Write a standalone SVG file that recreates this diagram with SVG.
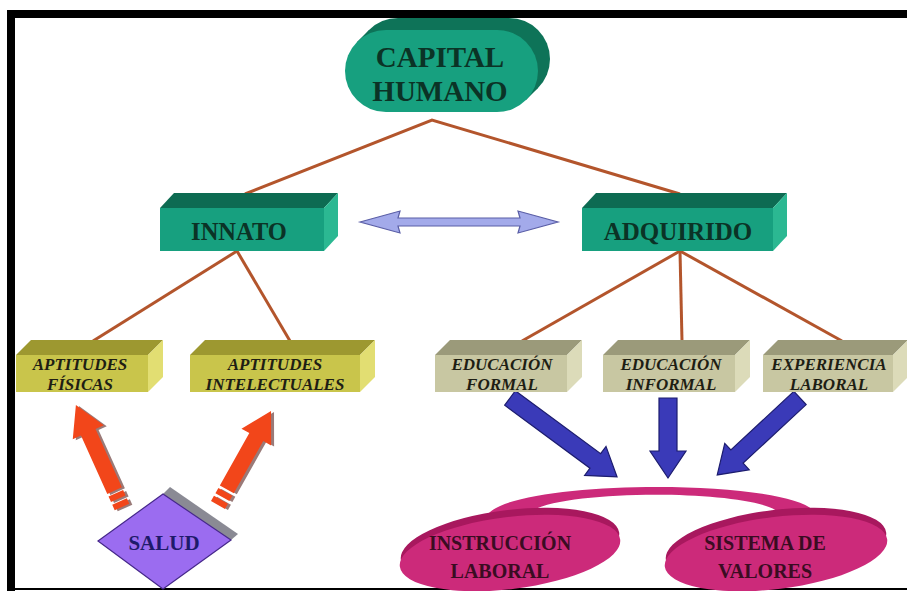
<svg xmlns="http://www.w3.org/2000/svg" width="907" height="591" viewBox="0 0 907 591">
<style>
.t{font-family:"Liberation Serif","Times New Roman",serif;font-weight:bold;text-anchor:middle}
.gt{fill:#0b3326}
.it{font-style:italic;fill:#1e1e14;font-size:17px}
.ln{stroke:#b3552c;stroke-width:3;fill:none}
.gf{fill:#17a07f}.gtop{fill:#0d6b52}.gr{fill:#2bb892}
.yf{fill:#c9c54b}.ytop{fill:#9d9830}.yr{fill:#e2de72}
.bf{fill:#c8c7a2}.btop{fill:#9b9a7a}.br{fill:#dcdbb9}
.blue{fill:#3a3ab8;stroke:#1c1c6e;stroke-width:1.2}
.red{fill:#f2461a}
.shd{fill:#9a7a78}
.pk{fill:#cc2a7a}.pkd{fill:#a8185e}
.pt{fill:#3a0c22;font-size:20px}
</style>
<rect width="907" height="591" fill="#fff"/>
<g id="frame">
<rect x="7" y="10" width="900" height="8" fill="#000"/>
<rect x="7" y="10" width="8" height="581" fill="#000"/>
<rect x="15" y="588" width="892" height="2" fill="#000"/>
</g>
<g id="connectors">
<polyline class="ln" points="245,194 432,120 680,194"/>
<line class="ln" x1="237" y1="251" x2="93" y2="341"/>
<line class="ln" x1="237" y1="251" x2="290" y2="341"/>
<line class="ln" x1="680" y1="251" x2="522" y2="341"/>
<line class="ln" x1="680" y1="251" x2="682" y2="341"/>
<line class="ln" x1="680" y1="251" x2="842" y2="341"/>
<polygon id="double-arrow" points="360,222 400,211 398,218 520,218 518,211 558,222 518,233 520,226 398,226 400,233" fill="#a3aaea" stroke="#5a5ea6" stroke-width="1.2"/>
<g id="blue-arrows">
<polygon class="blue" transform="translate(510,398) rotate(126.4)" points="-9,0 -9,-106 -18,-106 0,-133 18,-106 9,-106 9,0"/>
<polygon class="blue" transform="translate(668,398) rotate(180)" points="-9,0 -9,-53 -18,-53 0,-80 18,-53 9,-53 9,0"/>
<polygon class="blue" transform="translate(800,398) rotate(-132.9)" points="-9,0 -9,-86 -18,-86 0,-113 18,-86 9,-86 9,0"/>
</g>
<g id="red-arrows">
<g transform="translate(3,1)" class="shd">
<g transform="translate(122,507) rotate(-24.3)"><rect x="-8" y="-6" width="16" height="6"/><rect x="-8" y="-15" width="16" height="6"/><polygon points="-8,-18 -8,-82 -17,-82 0,-112 17,-82 8,-82 8,-18"/></g>
<g transform="translate(218,505) rotate(29.4)"><rect x="-8" y="-6" width="16" height="6"/><rect x="-8" y="-15" width="16" height="6"/><polygon points="-8,-18 -8,-78 -17,-78 0,-108 17,-78 8,-78 8,-18"/></g>
</g>
<g class="red">
<g transform="translate(122,507) rotate(-24.3)"><rect x="-8" y="-6" width="16" height="6"/><rect x="-8" y="-15" width="16" height="6"/><polygon points="-8,-18 -8,-82 -17,-82 0,-112 17,-82 8,-82 8,-18"/></g>
<g transform="translate(218,505) rotate(29.4)"><rect x="-8" y="-6" width="16" height="6"/><rect x="-8" y="-15" width="16" height="6"/><polygon points="-8,-18 -8,-78 -17,-78 0,-108 17,-78 8,-78 8,-18"/></g>
</g>
</g>
<path id="bridge" class="pk" d="M488 514 C518 478 800 478 816 514 L780 514 C762 488 542 488 526 516 Z"/>
</g>
<g id="capital-humano">
<rect x="357" y="18" width="193" height="82" rx="41" fill="#0e7358"/>
<polygon points="357,42 369,30 538,88 526,100" fill="#0e7358"/>
<rect x="345" y="30" width="193" height="82" rx="41" fill="#17a07f"/>
<text class="t gt" x="440" y="67" font-size="29">CAPITAL</text>
<text class="t gt" x="440" y="101" font-size="29">HUMANO</text>
</g>
<g id="innato">
<polygon class="gtop" points="160,208 174,193 338,193 324,208"/>
<polygon class="gr" points="324,208 338,193 338,236 324,251"/>
<rect class="gf" x="160" y="208" width="164" height="43"/>
<text class="t gt" x="239" y="240" font-size="24.5">INNATO</text>
</g>
<g id="adquirido">
<polygon class="gtop" points="582,208 596,193 787,193 773,208"/>
<polygon class="gr" points="773,208 787,193 787,236 773,251"/>
<rect class="gf" x="582" y="208" width="191" height="43"/>
<text class="t gt" x="678" y="240" font-size="25">ADQUIRIDO</text>
</g>
<g id="aptitudes-fisicas">
<polygon class="ytop" points="16,355 31,340 163,340 148,355"/>
<polygon class="yr" points="148,355 163,340 163,377 148,392"/>
<rect class="yf" x="16" y="355" width="132" height="37"/>
<text class="t it" x="80" y="370">APTITUDES</text>
<text class="t it" x="80" y="390">FÍSICAS</text>
</g>
<g id="aptitudes-intelectuales">
<polygon class="ytop" points="190,355 205,340 375,340 360,355"/>
<polygon class="yr" points="360,355 375,340 375,377 360,392"/>
<rect class="yf" x="190" y="355" width="170" height="37"/>
<text class="t it" x="275" y="370">APTITUDES</text>
<text class="t it" x="275" y="390">INTELECTUALES</text>
</g>
<g id="educacion-formal">
<polygon class="btop" points="435,355 450,340 582,340 567,355"/>
<polygon class="br" points="567,355 582,340 582,377 567,392"/>
<rect class="bf" x="435" y="355" width="132" height="37"/>
<text class="t it" x="502" y="370">EDUCACIÓN</text>
<text class="t it" x="502" y="390">FORMAL</text>
</g>
<g id="educacion-informal">
<polygon class="btop" points="603,355 618,340 750,340 735,355"/>
<polygon class="br" points="735,355 750,340 750,377 735,392"/>
<rect class="bf" x="603" y="355" width="132" height="37"/>
<text class="t it" x="671" y="370">EDUCACIÓN</text>
<text class="t it" x="671" y="390">INFORMAL</text>
</g>
<g id="experiencia-laboral">
<polygon class="btop" points="763,355 778,340 908,340 893,355"/>
<polygon class="br" points="893,355 908,340 908,377 893,392"/>
<rect class="bf" x="763" y="355" width="130" height="37"/>
<text class="t it" x="829" y="370">EXPERIENCIA</text>
<text class="t it" x="829" y="390">LABORAL</text>
</g>
<g id="salud">
<polygon points="163,494 170,487 238,534 231,540" fill="#8a8a94"/>
<polygon points="98,541 163,494 231,540 163,589" fill="#9b6cf0" stroke="#45278a" stroke-width="1.2"/>
<text class="t" x="164" y="550" font-size="21" fill="#1e1a6a">SALUD</text>
</g>
<g id="instruccion-laboral">
<ellipse class="pkd" cx="510" cy="546" rx="110" ry="36" transform="rotate(-7 510 546)"/>
<ellipse class="pk" cx="510" cy="553" rx="111" ry="36" transform="rotate(-7 510 553)"/>
<text class="t pt" x="500" y="550">INSTRUCCIÓN</text>
<text class="t pt" x="500" y="578">LABORAL</text>
</g>
<g id="sistema-de-valores">
<ellipse class="pkd" cx="776" cy="546" rx="111" ry="36" transform="rotate(-7 776 546)"/>
<ellipse class="pk" cx="776" cy="553" rx="112" ry="36" transform="rotate(-7 776 553)"/>
<text class="t pt" x="765" y="550">SISTEMA DE</text>
<text class="t pt" x="765" y="578">VALORES</text>
</g>
</svg>
